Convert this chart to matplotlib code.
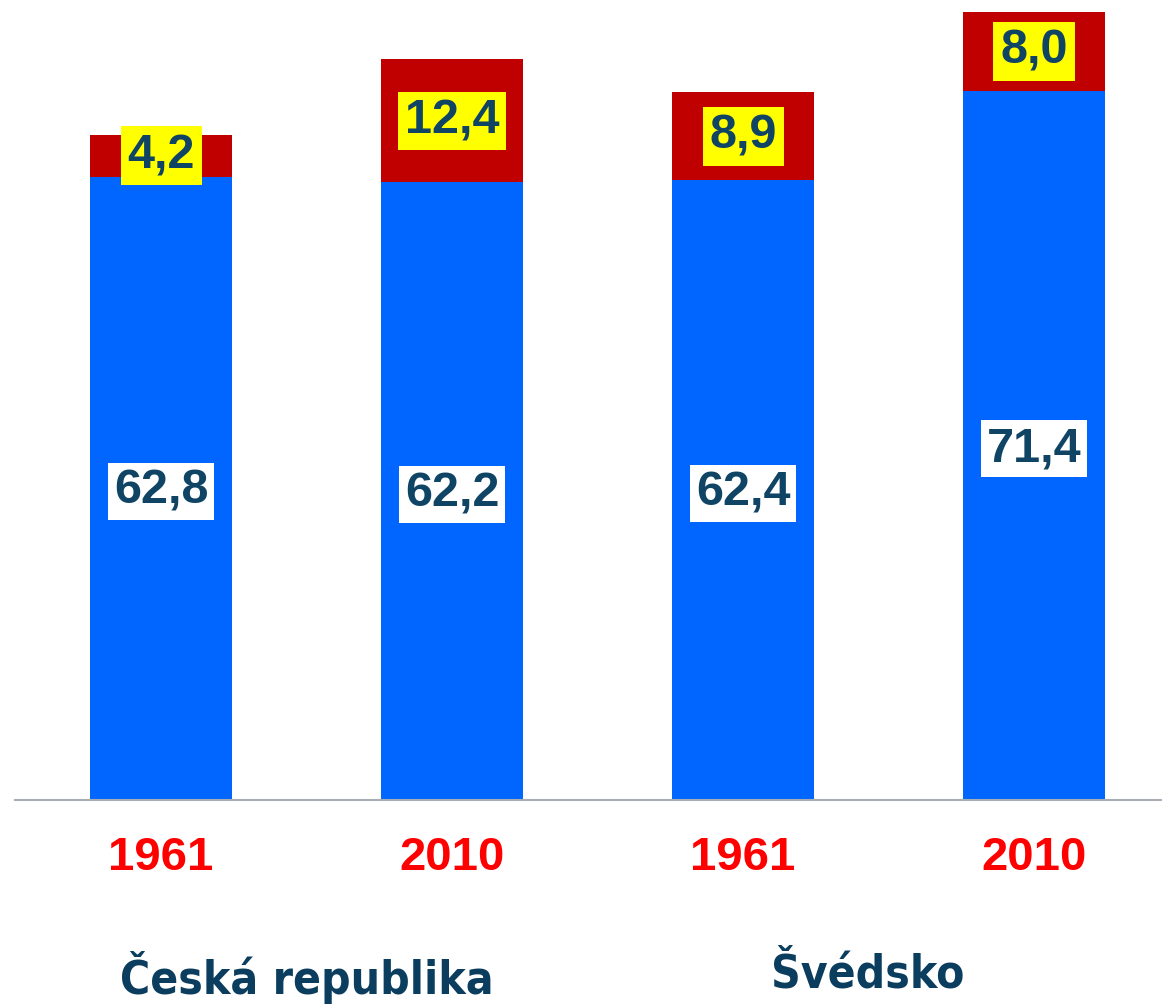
import numpy as np
import matplotlib.pyplot as plt

years = ['1961', '2010', '1961', '2010']
base = [62.8, 62.2, 62.4, 71.4]
extra = [4.2, 12.4, 8.9, 8.0]
countries = ['Česká republika', 'Švédsko']

fig = plt.figure(figsize=(11.62, 10.08), dpi=100)
ax = fig.add_axes([0.013, 0.2063, 0.987, 0.788])

x = np.arange(len(years))
w = 0.49
ax.bar(x, base, width=w, color='#0066FF')
ax.bar(x, extra, width=w, bottom=base, color='#C00000')

txt_col = '#0F4464'
for i in range(len(x)):
    ax.text(x[i], base[i] / 2 - 0.3, f'{base[i]:.1f}'.replace('.', ','), ha='center', va='center',
            fontsize=35, fontweight='bold', color=txt_col, family='Liberation Sans',
            bbox=dict(boxstyle='square,pad=0.12', fc='white', ec='none'))
    ax.text(x[i], base[i] + extra[i] / 2, f'{extra[i]:.1f}'.replace('.', ','), ha='center', va='center',
            fontsize=35, fontweight='bold', color=txt_col, family='Liberation Sans',
            bbox=dict(boxstyle='square,pad=0.14', fc='#FFFF00', ec='none'))

ax.set_xlim(-0.502, 3.44)
ax.set_ylim(0, 80)
for s in ['top', 'right', 'left']:
    ax.spines[s].set_visible(False)
ax.spines['bottom'].set_color('#A8AEB4')
ax.spines['bottom'].set_linewidth(1.5)
ax.set_yticks([])
ax.set_xticks(x)
ax.set_xticklabels(years, fontsize=34, fontweight='bold', color='#FF0000', family='Liberation Sans')
ax.tick_params(axis='x', length=0, pad=26)

fig.text(307 / 1162, 1 - 978 / 1008, countries[0], ha='center', va='center', fontsize=33,
         fontweight='bold', color='#0B3D5E', family='DejaVu Sans', fontstretch='condensed')
fig.text(868 / 1162, 1 - 975 / 1008, countries[1], ha='center', va='center', fontsize=33,
         fontweight='bold', color='#0B3D5E', family='DejaVu Sans', fontstretch='condensed')

fig.savefig('out.png', dpi=100)
